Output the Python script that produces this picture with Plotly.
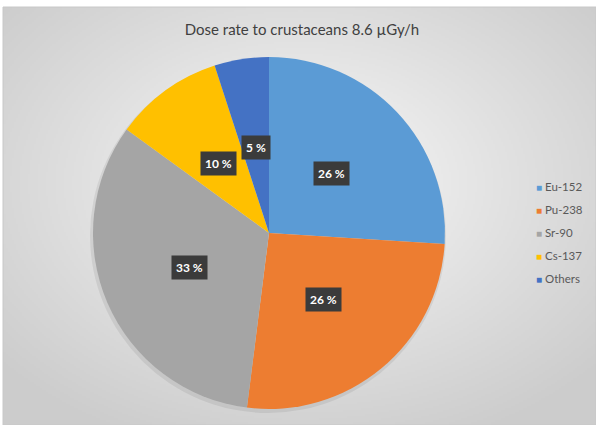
import base64, struct, zlib
import numpy as np
import plotly.graph_objects as go

# ---- data ----
labels = ["Eu-152", "Pu-238", "Sr-90", "Cs-137", "Others"]
values = [26, 26, 33, 10, 5]
colors = ["#5B9BD5", "#ED7D31", "#A5A5A5", "#FFC000", "#4472C4"]
title_text = "Dose rate to crustaceans 8.6 µGy/h"

W, H = 596, 425
FONT = "Lato, Open Sans, sans-serif"

# ---- radial gradient background as PNG ----
def gradient_png(w, h):
    yy, xx = np.mgrid[0:h, 0:w].astype(float)
    cx, cy = w * 0.5, h * 0.42
    d = np.sqrt(((xx - cx) / (w * 0.5)) ** 2 + ((yy - cy) / (h * 0.5)) ** 2)
    v = 252 - 48 * np.clip(d / 1.35, 0, 1) ** 0.9
    img = np.clip(v, 0, 255).astype(np.uint8)
    raw = b"".join(b"\x00" + bytes(np.repeat(row, 3)) for row in img)
    def chunk(tag, data):
        c = struct.pack(">I", len(data)) + tag + data
        return c + struct.pack(">I", zlib.crc32(tag + data) & 0xffffffff)
    png = b"\x89PNG\r\n\x1a\n" + chunk(b"IHDR", struct.pack(">IIBBBBB", w, h, 8, 2, 0, 0, 0))
    png += chunk(b"IDAT", zlib.compress(raw, 9)) + chunk(b"IEND", b"")
    return "data:image/png;base64," + base64.b64encode(png).decode()

bg = gradient_png(296, 209)

# pie geometry (pixels)
cx_px, cy_px, R = 269, 233, 176
dom_x = [(cx_px - R) / W, (cx_px + R) / W]
dom_y = [(H - cy_px - R) / H, (H - cy_px + R) / H]

fig = go.Figure()
fig.add_trace(go.Pie(
    labels=labels, values=values, sort=False, direction="clockwise", rotation=0,
    marker=dict(colors=colors, line=dict(width=0)),
    textinfo="none", hoverinfo="label+percent", showlegend=False,
    domain=dict(x=dom_x, y=dom_y),
))

# percentage labels in dark boxes, positioned from the data
total = sum(values)
annotations = []
cum = 0
for lab, v in zip(labels, values):
    mid = 2 * np.pi * (cum + v / 2) / total
    cum += v
    rl = 0.49 * R
    x = (cx_px + rl * np.sin(mid)) / W
    y = (H - cy_px + rl * np.cos(mid)) / H
    annotations.append(dict(
        x=x, y=y, xref="paper", yref="paper", showarrow=False,
        text="<b>%d %%</b>" % round(100 * v / total),
        font=dict(family=FONT, size=12, color="white"),
        bgcolor="#3b3b3b", borderpad=4, xanchor="center", yanchor="middle",
    ))

# legend (colored squares + names)
leg_x, leg_y0, leg_dy = 534, 186, 23
for i, (lab, col) in enumerate(zip(labels, colors)):
    annotations.append(dict(
        x=leg_x / W, y=(H - leg_y0 - i * leg_dy) / H, xref="paper", yref="paper",
        showarrow=False, xanchor="left", yanchor="middle",
        text="<span style='color:%s;font-size:10px'>■</span> %s" % (col, lab),
        font=dict(family=FONT, size=11.5, color="#595959"),
    ))

shapes = [
    dict(type="rect", xref="paper", yref="paper", x0=3 / W, x1=1, y0=0, y1=(H - 7) / H,
         line=dict(color="#c8c8c8", width=1), layer="below"),
    # soft shadow beneath the pie
    dict(type="circle", xref="paper", yref="paper",
         x0=(cx_px - R - 3) / W, x1=(cx_px + R + 1) / W,
         y0=(H - cy_px - R - 4) / H, y1=(H - cy_px + R - 1) / H,
         fillcolor="rgba(0,0,0,0.07)", line=dict(width=0), layer="below"),
]

fig.update_layout(
    width=W, height=H,
    margin=dict(l=0, r=0, t=0, b=0),
    paper_bgcolor="white",
    showlegend=False,
    images=[dict(source=bg, xref="paper", yref="paper", x=3 / W, y=(H - 7) / H,
                 sizex=(W - 3) / W, sizey=(H - 7) / H, sizing="stretch",
                 xanchor="left", yanchor="top", layer="below")],
    title=dict(text=title_text, x=302 / W, xanchor="center", y=(H - 30) / H, yanchor="middle",
               font=dict(family=FONT, size=15, color="#404040")),
    annotations=annotations,
    shapes=shapes,
)

fig.write_html(
    "out.html",
    config={"displayModeBar": False},
    post_script="document.body.style.margin='0';document.body.style.overflow='hidden';",
)
